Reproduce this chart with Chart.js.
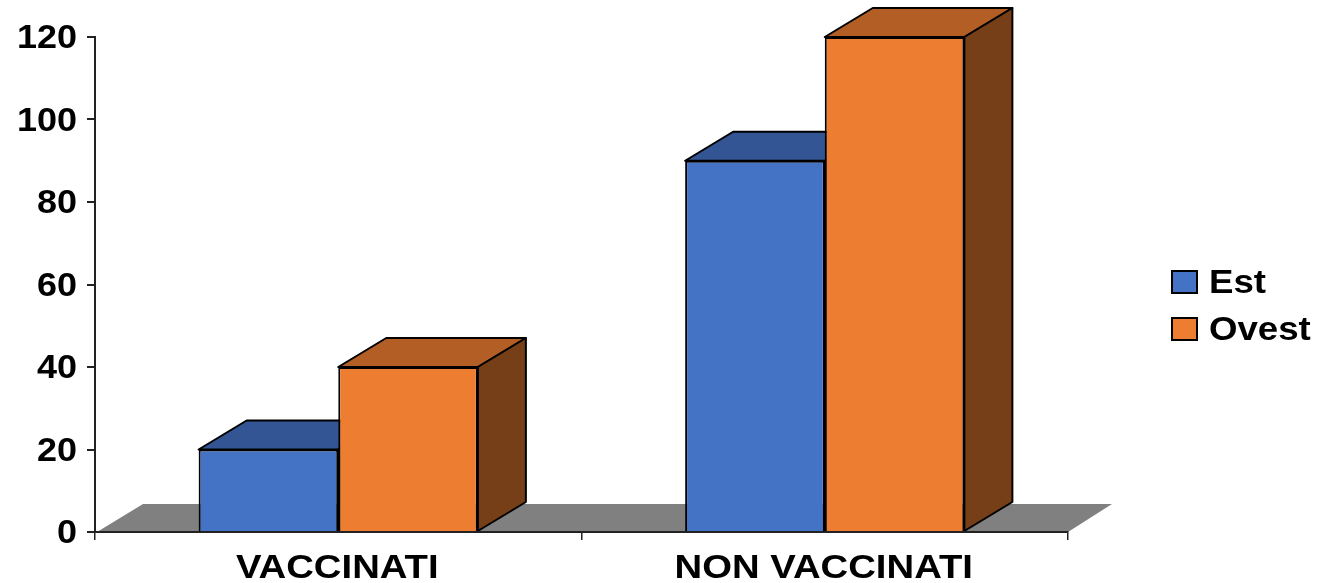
<!DOCTYPE html>
<html>
<head>
<meta charset="utf-8">
<title>Vaccinati</title>
<script src="https://cdn.jsdelivr.net/npm/chart.js@4/dist/chart.umd.js"></script>
<style>
  html, body { margin: 0; padding: 0; background: #fff; }
  canvas { display: block; }
</style>
</head>
<body>
<canvas id="chart" width="1317" height="583"></canvas>
<script>
const categories = ['VACCINATI', 'NON VACCINATI'];
const est = [20, 90];
const ovest = [40, 120];

const BLUE = { front: '#4472C4', top: '#335593', side: '#294677' };
const ORANGE = { front: '#ED7D31', top: '#B25E25', side: '#773F18' };

// oblique offset of the bar depth
const DX = 48;
const DY = 29;

// labels are wider than the font's normal proportions
const FONT = 'bold 33px "Liberation Sans", Arial, sans-serif';

function stretchedText(ctx, text, x, y, align, stretch) {
  ctx.save();
  ctx.translate(x, y);
  ctx.scale(stretch, 1);
  ctx.font = FONT;
  ctx.fillStyle = '#000';
  ctx.textAlign = align;
  ctx.textBaseline = 'middle';
  ctx.fillText(text, 0, 0);
  ctx.restore();
}

function face(ctx, points, fill) {
  ctx.beginPath();
  points.forEach((p, i) => i ? ctx.lineTo(p[0], p[1]) : ctx.moveTo(p[0], p[1]));
  ctx.closePath();
  ctx.fillStyle = fill;
  ctx.fill();
  ctx.lineWidth = 2;
  ctx.strokeStyle = '#000';
  ctx.lineJoin = 'round';
  ctx.stroke();
}

// grey floor and the top and side faces of every bar
const depthPlugin = {
  id: 'depth',
  beforeDatasetsDraw(chart) {
    const ctx = chart.ctx;
    const { left, right, bottom } = chart.chartArea;

    ctx.save();
    ctx.beginPath();
    ctx.moveTo(left + 2, bottom);
    ctx.lineTo(left + DX, bottom - 28);
    ctx.lineTo(right + 44, bottom - 28);
    ctx.lineTo(right, bottom);
    ctx.closePath();
    ctx.fillStyle = '#808080';
    ctx.fill();

    [BLUE, ORANGE].forEach((colors, d) => {
      chart.getDatasetMeta(d).data.forEach(bar => {
        const l = bar.x - bar.width / 2;
        const r = bar.x + bar.width / 2;
        const t = bar.y;
        const b = bar.base;
        face(ctx, [[l, t], [l + DX, t - DY], [r + DX, t - DY], [r, t]], colors.top);
        face(ctx, [[r, t], [r + DX, t - DY], [r + DX, b - DY], [r, b]], colors.side);
      });
    });
    ctx.restore();
  },
  afterDraw(chart) {
    const ctx = chart.ctx;
    const xs = chart.scales.x;
    const ys = chart.scales.y;

    ys.ticks.forEach(t => {
      stretchedText(ctx, String(t.value), 77, ys.getPixelForValue(t.value) + 2, 'right', 1.09);
    });
    categories.forEach((c, i) => {
      stretchedText(ctx, c, xs.getPixelForValue(i) - 1, 569, 'center', 1.16);
    });

    // legend
    chart.data.datasets.forEach((ds, i) => {
      const y = 282 + i * 47;
      ctx.fillStyle = ds.backgroundColor;
      ctx.strokeStyle = '#000';
      ctx.lineWidth = 2;
      ctx.fillRect(1172, y - 11, 25, 22);
      ctx.strokeRect(1172, y - 11, 25, 22);
      stretchedText(ctx, ds.label, 1209, y + 2, 'left', 1.11);
    });
  }
};

const barStyle = { borderColor: '#000', borderWidth: 2 };

new Chart(document.getElementById('chart'), {
  type: 'bar',
  data: {
    labels: categories,
    datasets: [
      { label: 'Est', data: est, backgroundColor: BLUE.front, ...barStyle },
      { label: 'Ovest', data: ovest, backgroundColor: ORANGE.front, ...barStyle }
    ]
  },
  options: {
    responsive: false,
    animation: false,
    events: [],
    layout: { padding: { top: 37, right: 249, left: 0, bottom: 0 } },
    datasets: { bar: { categoryPercentage: 0.574, barPercentage: 1 } },
    plugins: { legend: { display: false }, tooltip: { enabled: false } },
    scales: {
      x: {
        afterFit: s => { s.height = 51; },
        grid: { drawOnChartArea: false, tickLength: 8, color: '#222', lineWidth: 1.5 },
        border: { color: '#222', width: 2, z: 1 },
        ticks: { display: false }
      },
      y: {
        min: 0,
        max: 120,
        afterFit: s => { s.width = 95; },
        grid: { drawOnChartArea: false, tickLength: 8, color: '#222', lineWidth: 2 },
        border: { color: '#222', width: 2 },
        ticks: { display: false, stepSize: 20 }
      }
    }
  },
  plugins: [depthPlugin]
});
</script>
</body>
</html>
